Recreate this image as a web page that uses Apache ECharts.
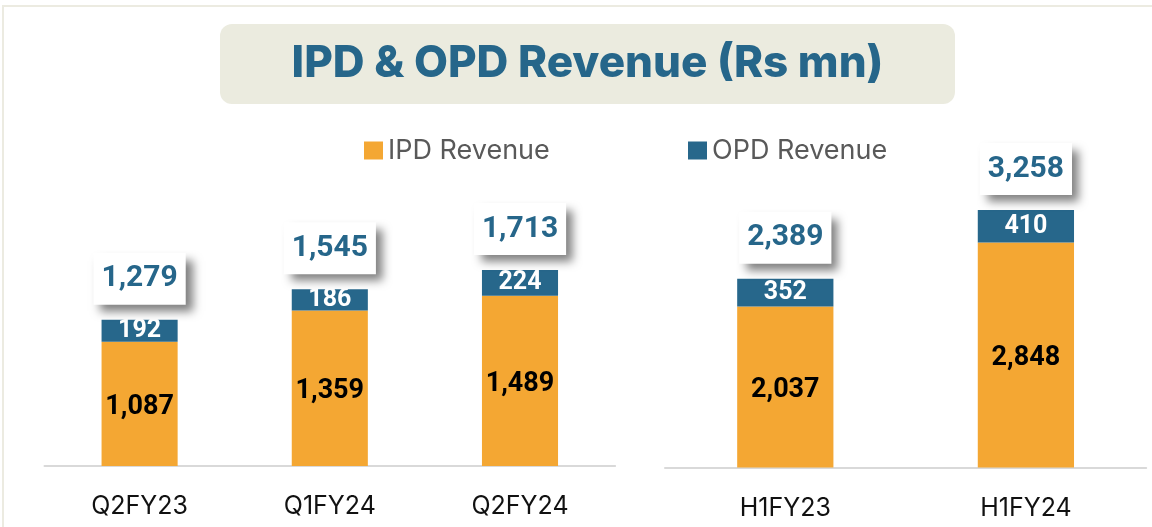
<!DOCTYPE html>
<html>
<head>
<meta charset="utf-8">
<script src="https://cdn.jsdelivr.net/npm/echarts@6/dist/echarts.min.js"></script>
<style>
  html, body { margin: 0; padding: 0; background: #fff; }
  #main { width: 1152px; height: 527px; }
</style>
</head>
<body>
<div id="main"></div>
<script>
// quarters (left panel)
var quarters = ['Q2FY23', 'Q1FY24', 'Q2FY24'];
var ipdQ     = [1087, 1359, 1489];
var opdQ     = [192, 186, 224];
var totalQ   = [1279, 1545, 1713];

// half years (right panel)
var halves = ['H1FY23', 'H1FY24'];
var ipdH   = [2037, 2848];
var opdH   = [352, 410];
var totalH = [2389, 3258];

var ORANGE = '#f4a733';
var BLUE   = '#27678b';
var NUMFONT = 'Roboto';
var TXTFONT = 'Inter';

var myChart = echarts.init(document.getElementById('main'));

function fmt(p) { return p.value.toLocaleString('en-US'); }

function catAxis(idx, cats) {
  return {
    type: 'category', gridIndex: idx, data: cats,
    axisTick: { show: false },
    axisLine: { lineStyle: { color: '#d9d9d9', width: 2 } },
    axisLabel: { margin: 28, fontSize: 25, color: '#111', fontFamily: TXTFONT }
  };
}

function valAxis(idx, max) {
  return { type: 'value', gridIndex: idx, min: 0, max: max, show: false, splitLine: { show: false } };
}

function barSet(idx, ipd, opd, total) {
  var stackName = 'st' + idx;
  return [
    {
      name: 'IPD Revenue', type: 'bar', xAxisIndex: idx, yAxisIndex: idx,
      stack: stackName, data: ipd, barWidth: '40%', barGap: '-100%',
      itemStyle: { color: ORANGE },
      label: { show: true, position: 'inside', offset: [0, 3], formatter: fmt, color: '#000',
        fontWeight: 'bold', fontSize: 27, fontFamily: NUMFONT }
    },
    {
      name: 'OPD Revenue', type: 'bar', xAxisIndex: idx, yAxisIndex: idx,
      stack: stackName, data: opd, barWidth: '40%', barGap: '-100%',
      itemStyle: { color: BLUE },
      label: { show: true, position: 'inside', formatter: fmt, color: '#fff',
        fontWeight: 'bold', fontSize: 25, fontFamily: NUMFONT }
    },
    {
      name: 'Total', type: 'bar', xAxisIndex: idx, yAxisIndex: idx,
      data: total, barWidth: '40%', barGap: '-100%', z: 5,
      itemStyle: { color: 'rgba(0,0,0,0)' },
      label: { show: true, position: 'top', distance: 15, formatter: fmt,
        color: '#26668a', fontWeight: 'bold', fontSize: 30, lineHeight: 34,
        fontFamily: NUMFONT, backgroundColor: '#fff', padding: [9, 8, 9, 8],
        shadowColor: 'rgba(0,0,0,0.5)', shadowBlur: 9, shadowOffsetX: 7, shadowOffsetY: 7 }
    }
  ];
}

var option = {
  animation: false,
  backgroundColor: '#fff',
  graphic: [
    { type: 'rect', shape: { x: 3, y: 6, width: 1200, height: 600 },
      style: { fill: 'none', stroke: '#ecebe1', lineWidth: 2 }, z: -1 },
    { type: 'rect', shape: { x: 220, y: 24, width: 735, height: 80, r: 12 },
      style: { fill: '#ebebdf' }, z: 0 },
    { type: 'text', x: 587.5, y: 64,
      style: { text: 'IPD & OPD Revenue (Rs mn)', fill: '#26668a', font: '800 44px Inter',
        textAlign: 'center', textVerticalAlign: 'middle' }, z: 1 }
  ],
  legend: [
    { data: ['IPD Revenue'], left: 364, top: 137, padding: 0, icon: 'rect',
      itemWidth: 19, itemHeight: 18, itemGap: 9,
      textStyle: { fontSize: 27, color: '#595959', fontFamily: TXTFONT } },
    { data: ['OPD Revenue'], left: 688, top: 137, padding: 0, icon: 'rect',
      itemWidth: 19, itemHeight: 18, itemGap: 9,
      textStyle: { fontSize: 27, color: '#595959', fontFamily: TXTFONT } }
  ],
  grid: [
    { left: 44.5, width: 570.6, top: 237.2, height: 228.8 },
    { left: 665, width: 481.2, top: 151.5, height: 316 }
  ],
  xAxis: [catAxis(0, quarters), catAxis(1, halves)],
  yAxis: [valAxis(0, 2000), valAxis(1, 4000)],
  series: barSet(0, ipdQ, opdQ, totalQ).concat(barSet(1, ipdH, opdH, totalH))
};

myChart.setOption(option);
</script>
</body>
</html>
